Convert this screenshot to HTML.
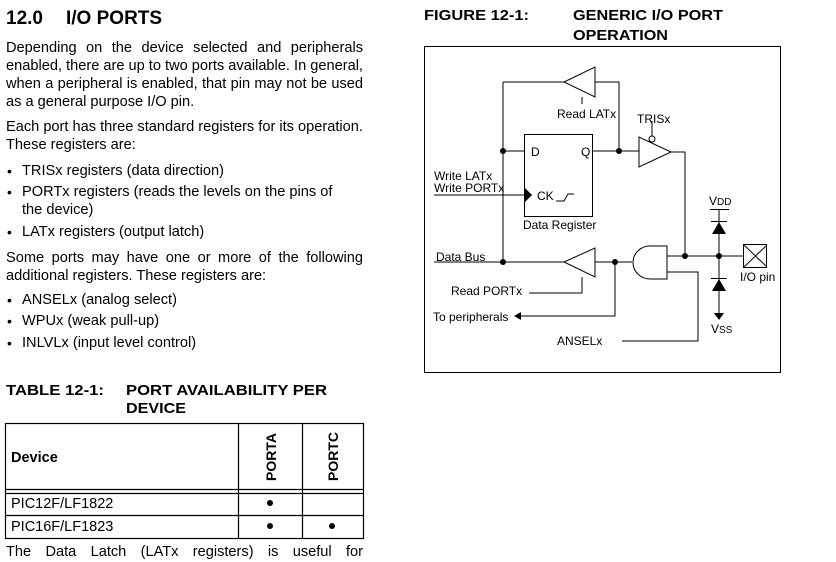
<!DOCTYPE html>
<html><head><meta charset="utf-8"><style>
html,body{margin:0;padding:0;background:#fff;}
svg{display:block;position:absolute;left:0;top:0;}
text{font-family:"Liberation Sans",Arial,sans-serif;fill:#000;}
.l{position:absolute;font-family:"Liberation Sans",Arial,sans-serif;font-size:14.6px;line-height:16px;white-space:nowrap;color:#000;}
.j{width:357px;text-align:justify;text-align-last:justify;white-space:normal;}
.b{position:absolute;font-family:"Liberation Sans",Arial,sans-serif;font-size:14px;line-height:16px;}
</style></head><body>
<svg width="836" height="562" viewBox="0 0 836 562" xmlns="http://www.w3.org/2000/svg">
<text x="6" y="24" font-size="19" font-weight="bold">12.0</text>
<text x="66" y="24" font-size="19" font-weight="bold">I/O PORTS</text>
<g font-size="15" font-weight="bold">
<text x="6" y="395" textLength="98" lengthAdjust="spacingAndGlyphs">TABLE 12-1:</text>
<text x="126" y="395" textLength="201" lengthAdjust="spacingAndGlyphs">PORT AVAILABILITY PER</text>
<text x="126" y="413" textLength="60" lengthAdjust="spacingAndGlyphs">DEVICE</text>
</g>
<g stroke="#000" stroke-width="1.2" fill="none">
<rect x="5.5" y="423.5" width="358" height="115"/>
<line x1="5" y1="489.5" x2="363" y2="489.5"/>
<line x1="5" y1="493.5" x2="363" y2="493.5"/>
<line x1="5" y1="515.5" x2="363" y2="515.5"/>
<line x1="238.5" y1="423" x2="238.5" y2="538"/>
<line x1="302.5" y1="423" x2="302.5" y2="538"/>
</g>
<text x="11" y="462" font-size="14.5" font-weight="bold">Device</text>
<text transform="translate(276,481) rotate(-90)" font-size="14" font-weight="bold">PORTA</text>
<text transform="translate(338,481) rotate(-90)" font-size="14" font-weight="bold">PORTC</text>
<text x="11" y="508" font-size="14.5">PIC12F/LF1822</text>
<text x="11" y="531" font-size="14.5">PIC16F/LF1823</text>
<circle cx="270" cy="503" r="3"/>
<circle cx="270" cy="526" r="3"/>
<circle cx="332" cy="526" r="3"/>

<g font-size="15" font-weight="bold">
<text x="424" y="20" textLength="105" lengthAdjust="spacingAndGlyphs">FIGURE 12-1:</text>
<text x="573" y="20" textLength="150" lengthAdjust="spacingAndGlyphs">GENERIC I/O PORT</text>
<text x="573" y="40" textLength="95" lengthAdjust="spacingAndGlyphs">OPERATION</text>
</g>
<rect x="424.5" y="46.5" width="356" height="326" fill="none" stroke="#000" stroke-width="1"/>

<g stroke="#000" stroke-width="1" fill="none">
<polyline points="503,82 564,82"/>
<polyline points="595,82 619,82 619,151"/>
<line x1="503" y1="82" x2="503" y2="262"/>
<line x1="503" y1="151" x2="524" y2="151"/>
<line x1="582" y1="97" x2="582" y2="104"/>
<rect x="524.5" y="134.5" width="68" height="82"/>
<line x1="593" y1="151" x2="639" y2="151"/>
<line x1="434" y1="195" x2="524" y2="195"/>
<polyline points="556,201 564,201 568,194 574,194"/>
<line x1="652" y1="121" x2="652" y2="136"/>
<polyline points="671,152 685,152 685,256"/>
<line x1="667" y1="256" x2="744" y2="256"/>
<line x1="719" y1="209" x2="719" y2="314"/>
<line x1="710" y1="209.5" x2="729" y2="209.5"/>
<rect x="743.5" y="244.5" width="23" height="23"/>
<line x1="744" y1="245" x2="767" y2="267"/>
<line x1="767" y1="245" x2="744" y2="267"/>
<line x1="434" y1="262" x2="564" y2="262"/>
<line x1="595" y1="262" x2="632" y2="262"/>
<polyline points="582,277 582,293 529,293"/>
<polyline points="615,262 615,316 520,316"/>
<polyline points="667,272 698,272 698,341 622,341"/>
<path d="M667,246 L650,246 A17,16.5 0 0 0 650,279 L667,279 Z"/>
</g>
<g fill="#fff" stroke="#000" stroke-width="1">
<polygon points="595,67 595,97 564,82"/>
<polygon points="595,248 595,277 564,262"/>
<polygon points="639,137 639,167 671,152"/>
<circle cx="652" cy="139" r="3"/>
</g>
<g fill="#000">
<circle cx="503" cy="151" r="3"/>
<circle cx="619" cy="151" r="3"/>
<circle cx="503" cy="262" r="3"/>
<circle cx="615" cy="262" r="3"/>
<circle cx="685" cy="256" r="3"/>
<circle cx="719" cy="256" r="3"/>
<polygon points="524,187 524,203 532,195"/>
<polygon points="712,234 726,234 719,222"/>
<line x1="711" y1="221.5" x2="727" y2="221.5" stroke="#000"/>
<polygon points="712,291 726,291 719,279"/>
<line x1="711" y1="278.5" x2="727" y2="278.5" stroke="#000"/>
<polygon points="714,313 724,313 719,320"/>
<polygon points="514,316 521,312 521,320"/>
</g>
<g font-size="12">
<text x="557" y="118">Read LATx</text>
<text x="637" y="123">TRISx</text>
<text x="531" y="156">D</text>
<text x="581" y="156">Q</text>
<text x="434" y="180">Write LATx</text>
<text x="434" y="192">Write PORTx</text>
<text x="537" y="200">CK</text>
<text x="523" y="229">Data Register</text>
<text x="436" y="261">Data Bus</text>
<text x="451" y="295">Read PORTx</text>
<text x="433" y="321">To peripherals</text>
<text x="557" y="345">ANSELx</text>
<text x="709" y="205">V<tspan font-size="10">DD</tspan></text>
<text x="740" y="281">I/O pin</text>
<text x="711" y="333">V<tspan font-size="10">SS</tspan></text>
</g>
</svg>
<div class="l j" style="left:6px;top:40px">Depending on the device selected and peripherals</div>
<div class="l j" style="left:6px;top:58px">enabled, there are up to two ports available. In general,</div>
<div class="l j" style="left:6px;top:76px">when a peripheral is enabled, that pin may not be used</div>
<div class="l" style="left:6px;top:94px">as a general purpose I/O pin.</div>
<div class="l" style="left:6px;top:119px">Each port has three standard registers for its operation.</div>
<div class="l" style="left:6px;top:137px">These registers are:</div>
<div class="b" style="left:7px;top:163px">•</div><div class="l" style="left:22px;top:163px">TRISx registers (data direction)</div>
<div class="b" style="left:7px;top:184px">•</div><div class="l" style="left:22px;top:184px">PORTx registers (reads the levels on the pins of</div>
<div class="l" style="left:22px;top:202px">the device)</div>
<div class="b" style="left:7px;top:224px">•</div><div class="l" style="left:22px;top:224px">LATx registers (output latch)</div>
<div class="l j" style="left:6px;top:250px">Some ports may have one or more of the following</div>
<div class="l" style="left:6px;top:268px">additional registers. These registers are:</div>
<div class="b" style="left:7px;top:292px">•</div><div class="l" style="left:22px;top:292px">ANSELx (analog select)</div>
<div class="b" style="left:7px;top:313px">•</div><div class="l" style="left:22px;top:313px">WPUx (weak pull-up)</div>
<div class="b" style="left:7px;top:335px">•</div><div class="l" style="left:22px;top:335px">INLVLx (input level control)</div>
<div class="l j" style="left:6px;top:544px">The Data Latch (LATx registers) is useful for</div>
</body></html>
